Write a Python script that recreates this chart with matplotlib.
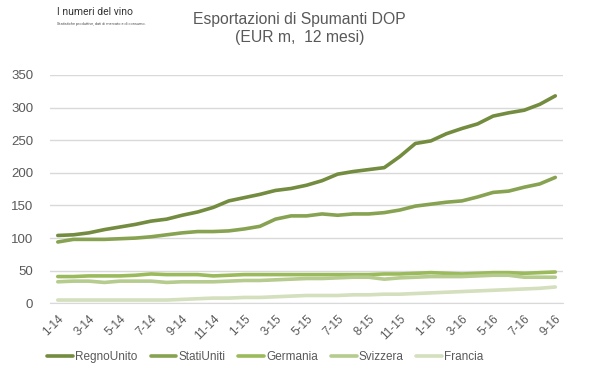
import matplotlib.pyplot as plt
import numpy as np

plt.rcParams['font.family'] = ['Liberation Sans', 'DejaVu Sans']

# 33 monthly points, 1-14 .. 9-16 (rolling 12 months, EUR m)
tick_labels = ['1-14', '3-14', '5-14', '7-14', '9-14', '11-14', '1-15', '3-15',
               '5-15', '7-15', '8-15', '11-15', '1-16', '3-16', '5-16', '7-16', '9-16']

regno_unito = [104, 105, 108, 113, 117, 121, 126, 129, 135, 140, 147,
               157, 162, 167, 173, 176, 181, 188, 198, 202, 205, 208,
               225, 245, 249, 260, 268, 275, 287, 292, 296, 305, 318]
stati_uniti = [94, 98, 98, 98, 99, 100, 102, 105, 108, 110, 110,
               111, 114, 118, 129, 134, 134, 137, 135, 137, 137, 139,
               143, 149, 152, 155, 157, 163, 170, 172, 178, 183, 193]
germania = [41, 41, 42, 42, 42, 43, 45, 44, 44, 44, 42,
            43, 44, 44, 44, 44, 44, 44, 44, 44, 44, 45,
            45, 46, 47, 46, 45, 46, 47, 47, 46, 47, 48]
svizzera = [33, 34, 34, 32, 34, 34, 34, 32, 33, 33, 33,
            34, 35, 35, 36, 37, 38, 38, 39, 40, 40, 37,
            39, 40, 41, 41, 41, 42, 43, 43, 40, 40, 40]
francia = [5, 5, 5, 5, 5, 5, 5, 5, 6, 7, 8,
           8, 9, 9, 10, 11, 12, 12, 12, 13, 13, 14,
           14, 15, 16, 17, 18, 19, 20, 21, 22, 23, 25]

series = [('RegnoUnito', regno_unito, '#738c3f'),
          ('StatiUniti', stati_uniti, '#87a352'),
          ('Germania', germania, '#9bba5c'),
          ('Svizzera', svizzera, '#b6cb8e'),
          ('Francia', francia, '#d3dfbd')]

text_color = '#595959'

fig = plt.figure(figsize=(5.99, 3.78), dpi=100)
ax = fig.add_axes([0.0835, 0.1976, 0.8565, 0.604])

x = np.arange(len(regno_unito))
for name, vals, col in series:
    ax.plot(x, vals, color=col, lw=2.6, label=name, solid_capstyle='round')

ax.set_xlim(-0.5, 32.5)
ax.set_ylim(0, 350)
ax.set_yticks(range(0, 351, 50))
ax.yaxis.grid(True, color='#d9d9d9', lw=1)
ax.set_axisbelow(True)
for s in ['top', 'right', 'left']:
    ax.spines[s].set_visible(False)
ax.spines['bottom'].set_color('#d9d9d9')
ax.tick_params(axis='y', length=0, labelsize=9.5, colors=text_color, pad=12)
ax.set_xticks(x[::2])
ax.set_xticklabels(tick_labels, rotation=45, ha='right', rotation_mode='anchor')
ax.tick_params(axis='x', length=0, labelsize=8.5, colors=text_color, pad=7)

fig.text(0.5, 0.925, 'Esportazioni di Spumanti DOP\n(EUR m,  12 mesi)',
         ha='center', va='center', fontsize=11.3, color=text_color, linespacing=1.2)

# logo text top-left
fig.text(0.095, 0.968, 'I numeri del vino', fontsize=7.5, color='#333333',
         va='center', family='Roboto')
fig.text(0.095, 0.937, 'Statistiche produttive, dati di mercato e di consumo.',
         fontsize=2.8, color='#555555', va='center', family='Roboto')

leg = fig.legend(loc='center', bbox_to_anchor=(0.443, 0.055), ncol=5, frameon=False,
                 fontsize=8.5, handlelength=2.2, handletextpad=0.15, columnspacing=1.1)
for t in leg.get_texts():
    t.set_color(text_color)

fig.savefig('out.png', dpi=100)
